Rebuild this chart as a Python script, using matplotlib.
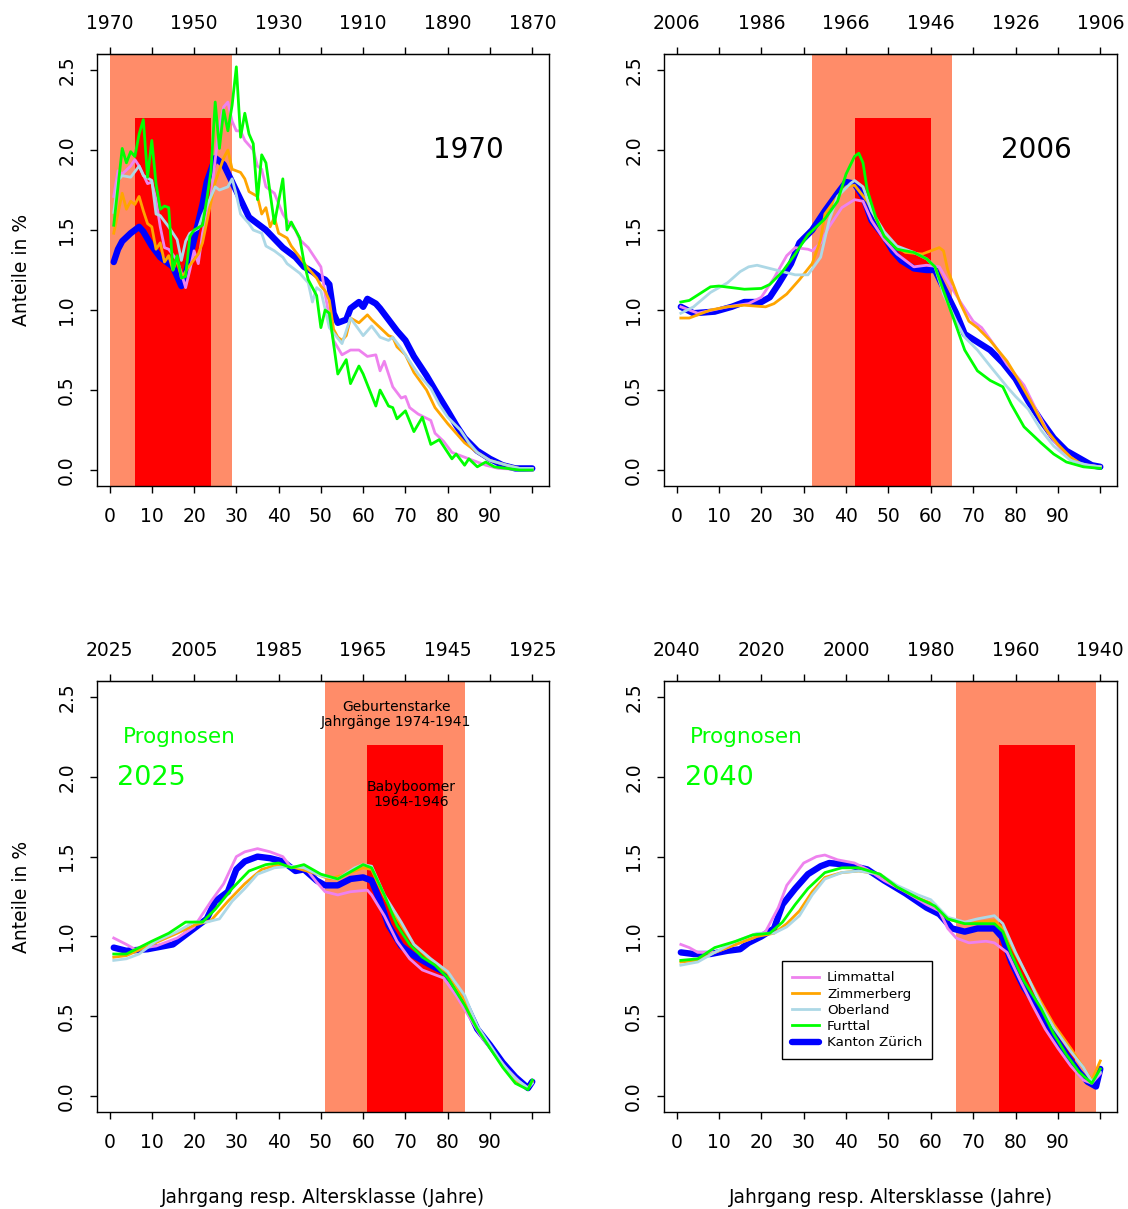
import matplotlib
matplotlib.use("Agg")
import matplotlib.pyplot as plt

# Altersverteilung Kanton Zuerich und Regionen (Anteile in %)

# ---- 1970 ----
alter_1970_zh = [1, 2, 3, 5, 7, 8, 10, 12, 14, 15, 17, 18, 20, 22, 23, 25, 27, 29, 31, 33, 35, 37, 41, 44, 46, 48, 50, 51, 52, 53,
                 54, 56, 57, 59, 60, 61, 63, 64, 66, 68, 70, 72, 75, 77, 80, 82, 84, 87, 90, 93, 96, 100]
anteil_1970_zh = [1.30, 1.38, 1.43, 1.48, 1.52, 1.49, 1.40, 1.33, 1.29, 1.27, 1.15, 1.22, 1.44, 1.66, 1.80, 1.95, 1.91, 1.80, 1.69, 1.58, 1.54, 1.50, 1.39, 1.33, 1.27, 1.24, 1.20, 1.19, 1.16, 0.98,
                  0.92, 0.94, 1.01, 1.05, 1.02, 1.07, 1.04, 1.01, 0.94, 0.87, 0.81, 0.71, 0.59, 0.50, 0.37, 0.28, 0.20, 0.12, 0.07, 0.03, 0.01, 0.01]
alter_1970_lim = [1, 2, 3, 5, 6, 7, 9, 10, 11, 12, 13, 14, 16, 17, 18, 19, 20, 21, 22, 24, 25, 26, 27, 28, 29, 30, 31, 32, 34, 35,
                  36, 37, 39, 41, 42, 44, 45, 47, 48, 50, 51, 52, 53, 55, 57, 59, 61, 63, 64, 65, 67, 69, 70, 71, 73, 76, 77, 79, 81, 84,
                  86, 89, 92, 100]
anteil_1970_lim = [1.71, 1.87, 1.85, 1.90, 1.94, 1.90, 1.79, 1.80, 1.69, 1.52, 1.39, 1.38, 1.31, 1.23, 1.14, 1.25, 1.37, 1.29, 1.48, 1.71, 1.94, 2.15, 2.27, 2.30, 2.18, 2.12, 2.12, 2.06, 2.00, 1.90,
                   1.88, 1.77, 1.73, 1.60, 1.56, 1.50, 1.44, 1.39, 1.35, 1.27, 1.10, 0.95, 0.81, 0.72, 0.75, 0.75, 0.71, 0.72, 0.62, 0.68, 0.52, 0.45, 0.46, 0.39, 0.35, 0.31, 0.23, 0.18, 0.11, 0.08,
                   0.06, 0.03, 0.01, 0.00]
alter_1970_zim = [1, 3, 4, 5, 6, 7, 8, 9, 10, 11, 12, 13, 14, 15, 16, 17, 18, 19, 21, 22, 23, 25, 27, 28, 29, 31, 32, 33, 35, 36,
                  37, 38, 39, 40, 42, 43, 45, 47, 49, 50, 51, 52, 53, 54, 55, 56, 57, 59, 61, 62, 64, 66, 67, 68, 70, 72, 75, 77, 80, 82,
                  84, 87, 90, 94, 97, 100]
anteil_1970_zim = [1.48, 1.73, 1.63, 1.68, 1.66, 1.71, 1.62, 1.54, 1.52, 1.38, 1.42, 1.30, 1.34, 1.25, 1.32, 1.20, 1.24, 1.28, 1.35, 1.42, 1.55, 1.80, 1.95, 2.00, 1.88, 1.86, 1.82, 1.74, 1.71, 1.60,
                   1.64, 1.52, 1.58, 1.48, 1.45, 1.40, 1.33, 1.26, 1.20, 1.15, 1.12, 1.06, 0.88, 0.83, 0.81, 0.84, 0.95, 0.92, 0.97, 0.94, 0.89, 0.84, 0.83, 0.77, 0.72, 0.61, 0.50, 0.39, 0.29, 0.23,
                   0.17, 0.11, 0.06, 0.03, 0.01, 0.01]
alter_1970_obe = [1, 2, 3, 5, 7, 8, 10, 11, 12, 14, 16, 17, 18, 19, 21, 22, 24, 25, 26, 28, 29, 30, 31, 33, 34, 36, 37, 39, 41, 42,
                  45, 47, 48, 49, 50, 52, 55, 57, 60, 62, 64, 66, 67, 69, 71, 73, 76, 78, 80, 83, 85, 87, 90, 94, 97, 100]
anteil_1970_obe = [1.61, 1.81, 1.84, 1.83, 1.90, 1.84, 1.81, 1.60, 1.59, 1.52, 1.44, 1.31, 1.43, 1.48, 1.51, 1.59, 1.71, 1.77, 1.75, 1.77, 1.82, 1.72, 1.60, 1.54, 1.50, 1.48, 1.40, 1.37, 1.33, 1.29,
                   1.23, 1.17, 1.05, 1.14, 1.12, 0.89, 0.79, 0.95, 0.84, 0.90, 0.83, 0.81, 0.83, 0.76, 0.68, 0.60, 0.51, 0.41, 0.33, 0.25, 0.17, 0.11, 0.06, 0.03, 0.01, 0.01]
alter_1970_fur = [1, 3, 4, 5, 6, 7, 8, 9, 10, 11, 12, 13, 14, 15, 16, 17, 18, 19, 20, 22, 23, 24, 25, 26, 27, 28, 29, 30, 31, 32,
                  33, 34, 35, 36, 37, 38, 39, 41, 42, 43, 45, 46, 47, 48, 49, 50, 51, 52, 54, 56, 57, 59, 60, 63, 64, 66, 67, 68, 70, 72,
                  74, 76, 78, 81, 82, 84, 85, 87, 89, 91, 94, 97, 100]
anteil_1970_fur = [1.53, 2.01, 1.92, 1.99, 1.96, 2.10, 2.19, 1.83, 2.06, 1.79, 1.63, 1.65, 1.64, 1.25, 1.34, 1.20, 1.21, 1.46, 1.50, 1.53, 1.69, 1.87, 2.30, 2.01, 2.25, 2.12, 2.28, 2.52, 2.08, 2.23,
                   2.10, 2.04, 1.69, 1.97, 1.92, 1.73, 1.54, 1.82, 1.50, 1.55, 1.45, 1.30, 1.19, 1.14, 1.09, 0.89, 1.00, 0.98, 0.60, 0.69, 0.54, 0.65, 0.60, 0.40, 0.50, 0.40, 0.39, 0.32, 0.37, 0.24,
                   0.33, 0.16, 0.19, 0.07, 0.10, 0.03, 0.07, 0.02, 0.05, 0.02, 0.01, 0.00, 0.00]

# ---- 2006 ----
alter_2006_zh = [1, 4, 9, 13, 16, 20, 22, 24, 27, 29, 32, 35, 38, 40, 42, 44, 46, 49, 51, 53, 56, 59, 61, 63, 66, 68, 71, 74, 77, 80,
                 83, 86, 89, 92, 96, 98, 100]
anteil_2006_zh = [1.02, 0.98, 0.99, 1.02, 1.05, 1.05, 1.08, 1.16, 1.29, 1.42, 1.50, 1.62, 1.73, 1.80, 1.79, 1.71, 1.56, 1.46, 1.37, 1.31, 1.26, 1.25, 1.25, 1.14, 0.98, 0.85, 0.80, 0.75, 0.67, 0.57,
                  0.43, 0.31, 0.20, 0.12, 0.06, 0.03, 0.02]
alter_2006_lim = [1, 5, 12, 17, 20, 23, 26, 28, 31, 32, 34, 36, 39, 42, 44, 46, 49, 52, 56, 59, 62, 64, 67, 70, 72, 75, 78, 82, 85, 88,
                  91, 95, 100]
anteil_2006_lim = [1.02, 0.98, 1.02, 1.04, 1.08, 1.20, 1.34, 1.39, 1.38, 1.37, 1.42, 1.52, 1.64, 1.69, 1.68, 1.56, 1.44, 1.35, 1.27, 1.28, 1.27, 1.18, 1.05, 0.93, 0.89, 0.78, 0.66, 0.53, 0.37, 0.22,
                   0.12, 0.04, 0.02]
alter_2006_zim = [1, 3, 8, 12, 16, 21, 23, 26, 29, 32, 34, 35, 38, 40, 42, 45, 48, 51, 54, 58, 60, 62, 63, 64, 67, 69, 71, 74, 78, 81,
                  84, 87, 90, 93, 96, 100]
anteil_2006_zim = [0.95, 0.95, 1.00, 1.02, 1.03, 1.02, 1.04, 1.10, 1.19, 1.29, 1.44, 1.60, 1.71, 1.77, 1.78, 1.68, 1.52, 1.41, 1.36, 1.35, 1.37, 1.39, 1.37, 1.25, 1.04, 0.93, 0.89, 0.81, 0.68, 0.55,
                   0.41, 0.26, 0.16, 0.08, 0.03, 0.02]
alter_2006_obe = [1, 4, 8, 12, 15, 17, 19, 22, 25, 28, 31, 34, 36, 38, 41, 42, 44, 46, 49, 52, 56, 59, 61, 63, 66, 68, 71, 74, 78, 80,
                  83, 86, 89, 93, 97, 100]
anteil_2006_obe = [0.98, 1.02, 1.11, 1.17, 1.24, 1.27, 1.28, 1.26, 1.24, 1.22, 1.22, 1.33, 1.56, 1.71, 1.79, 1.81, 1.77, 1.62, 1.49, 1.40, 1.36, 1.32, 1.27, 1.10, 0.93, 0.83, 0.75, 0.65, 0.52, 0.46,
                   0.38, 0.25, 0.15, 0.06, 0.03, 0.02]
alter_2006_fur = [1, 3, 8, 10, 13, 16, 20, 22, 25, 28, 31, 35, 38, 40, 42, 43, 44, 45, 47, 49, 52, 56, 59, 61, 63, 66, 68, 71, 74, 77,
                  79, 82, 86, 89, 92, 96, 100]
anteil_2006_fur = [1.05, 1.06, 1.145, 1.15, 1.14, 1.13, 1.135, 1.16, 1.24, 1.35, 1.47, 1.57, 1.68, 1.85, 1.96, 1.98, 1.92, 1.75, 1.58, 1.46, 1.38, 1.36, 1.32, 1.27, 1.12, 0.90, 0.75, 0.62, 0.56, 0.52,
                   0.41, 0.27, 0.17, 0.10, 0.05, 0.02, 0.01]

# ---- 2025 (Prognose) ----
alter_2025_zh = [1, 4, 9, 15, 17, 20, 23, 25, 28, 30, 32, 35, 38, 41, 44, 46, 49, 51, 54, 57, 60, 62, 64, 66, 69, 72, 76, 79, 81, 84,
                 87, 90, 93, 96, 99, 100]
anteil_2025_zh = [0.93, 0.91, 0.92, 0.95, 0.99, 1.05, 1.11, 1.22, 1.28, 1.42, 1.47, 1.50, 1.49, 1.47, 1.41, 1.42, 1.35, 1.32, 1.32, 1.36, 1.37, 1.35, 1.22, 1.07, 0.94, 0.88, 0.82, 0.78, 0.72, 0.59,
                  0.42, 0.32, 0.21, 0.12, 0.05, 0.09]
alter_2025_lim = [1, 4, 6, 11, 16, 20, 24, 27, 30, 32, 35, 38, 41, 43, 46, 49, 51, 54, 57, 61, 62, 65, 68, 71, 74, 76, 79, 82, 85, 88,
                  91, 94, 97, 99, 100]
anteil_2025_lim = [0.99, 0.95, 0.92, 0.94, 0.99, 1.06, 1.22, 1.33, 1.50, 1.53, 1.55, 1.53, 1.50, 1.43, 1.44, 1.34, 1.28, 1.26, 1.28, 1.29, 1.26, 1.13, 0.97, 0.86, 0.79, 0.77, 0.74, 0.63, 0.50, 0.37,
                   0.27, 0.17, 0.09, 0.05, 0.08]
alter_2025_zim = [1, 4, 10, 16, 20, 24, 28, 32, 36, 40, 44, 48, 52, 56, 60, 62, 65, 69, 72, 76, 80, 84, 87, 90, 93, 96, 99, 100]
anteil_2025_zim = [0.87, 0.88, 0.95, 1.02, 1.07, 1.10, 1.22, 1.33, 1.42, 1.45, 1.43, 1.40, 1.36, 1.39, 1.43, 1.42, 1.25, 1.07, 0.95, 0.85, 0.77, 0.60, 0.43, 0.31, 0.19, 0.10, 0.05, 0.09]
alter_2025_obe = [1, 4, 7, 11, 16, 20, 23, 26, 29, 32, 35, 39, 43, 46, 50, 54, 58, 60, 62, 65, 69, 72, 76, 80, 84, 87, 90, 93, 96, 99,
                  100]
anteil_2025_obe = [0.85, 0.86, 0.89, 0.97, 1.03, 1.09, 1.09, 1.11, 1.22, 1.30, 1.39, 1.43, 1.44, 1.43, 1.38, 1.36, 1.43, 1.45, 1.44, 1.26, 1.09, 0.95, 0.86, 0.78, 0.63, 0.44, 0.32, 0.20, 0.11, 0.05,
                   0.08]
alter_2025_fur = [1, 4, 10, 14, 18, 21, 22, 25, 29, 33, 37, 40, 43, 46, 50, 54, 58, 60, 62, 65, 68, 71, 74, 77, 80, 84, 87, 90, 93, 96,
                  99, 100]
anteil_2025_fur = [0.89, 0.89, 0.97, 1.02, 1.09, 1.09, 1.09, 1.17, 1.30, 1.41, 1.45, 1.46, 1.43, 1.45, 1.39, 1.36, 1.42, 1.45, 1.43, 1.26, 1.07, 0.95, 0.87, 0.82, 0.74, 0.57, 0.42, 0.30, 0.18, 0.08,
                   0.04, 0.10]

# ---- 2040 (Prognose) ----
alter_2040_zh = [1, 4, 8, 12, 15, 17, 20, 23, 25, 28, 31, 34, 36, 40, 45, 49, 54, 59, 62, 65, 68, 71, 75, 77, 79, 82, 86, 89, 92, 95,
                 97, 99, 100]
anteil_2040_zh = [0.90, 0.89, 0.89, 0.91, 0.92, 0.96, 1.00, 1.05, 1.20, 1.30, 1.39, 1.44, 1.46, 1.45, 1.42, 1.35, 1.27, 1.18, 1.14, 1.05, 1.03, 1.05, 1.05, 0.99, 0.84, 0.68, 0.53, 0.38, 0.26, 0.15,
                  0.09, 0.06, 0.17]
alter_2040_lim = [1, 3, 5, 9, 14, 18, 21, 24, 26, 30, 33, 35, 38, 42, 45, 49, 54, 59, 62, 64, 66, 69, 73, 75, 78, 81, 84, 87, 90, 93,
                  96, 98, 100]
anteil_2040_lim = [0.95, 0.93, 0.90, 0.90, 0.95, 0.99, 1.03, 1.18, 1.32, 1.46, 1.50, 1.51, 1.48, 1.46, 1.42, 1.35, 1.28, 1.20, 1.16, 1.05, 0.99, 0.96, 0.97, 0.96, 0.90, 0.73, 0.57, 0.42, 0.30, 0.19,
                   0.10, 0.08, 0.14]
alter_2040_zim = [1, 5, 9, 14, 19, 23, 26, 29, 32, 35, 39, 43, 48, 52, 57, 61, 64, 68, 71, 75, 77, 80, 83, 86, 89, 93, 96, 98, 100]
anteil_2040_zim = [0.84, 0.85, 0.90, 0.95, 1.00, 1.02, 1.08, 1.16, 1.28, 1.37, 1.40, 1.41, 1.39, 1.31, 1.24, 1.20, 1.11, 1.08, 1.09, 1.10, 1.05, 0.89, 0.74, 0.59, 0.45, 0.30, 0.18, 0.10, 0.22]
alter_2040_obe = [1, 5, 9, 14, 19, 23, 26, 29, 32, 35, 39, 43, 48, 52, 57, 60, 64, 68, 71, 75, 77, 80, 83, 86, 89, 93, 96, 98, 100]
anteil_2040_obe = [0.82, 0.84, 0.90, 0.97, 1.02, 1.02, 1.06, 1.13, 1.26, 1.36, 1.40, 1.41, 1.39, 1.32, 1.26, 1.23, 1.12, 1.09, 1.11, 1.13, 1.08, 0.90, 0.74, 0.57, 0.43, 0.28, 0.18, 0.09, 0.15]
alter_2040_fur = [1, 5, 9, 14, 18, 22, 25, 28, 31, 35, 39, 43, 48, 52, 57, 61, 64, 68, 71, 75, 77, 79, 82, 86, 89, 92, 95, 98, 100]
anteil_2040_fur = [0.85, 0.86, 0.93, 0.97, 1.01, 1.02, 1.09, 1.20, 1.30, 1.40, 1.43, 1.43, 1.39, 1.31, 1.24, 1.19, 1.11, 1.08, 1.08, 1.08, 1.03, 0.89, 0.72, 0.55, 0.39, 0.26, 0.15, 0.08, 0.17]

regionen = ["Limmattal", "Zimmerberg", "Oberland", "Furttal", "Kanton Zürich"]
farben = ["violet", "orange", "lightblue", "#00FF00", "blue"]

jahre = [1970, 2006, 2025, 2040]

# geburtenstarke Jahrgaenge und Babyboomer (Geburtsjahre)
geburtenstark = (1974, 1941)
babyboomer = (1964, 1946)
boomer_hoehe = 2.2

plt.rcParams['font.family'] = ['DejaVu Sans']

fig = plt.figure(figsize=(11.28, 12.09), dpi=100)
positionen = [
    [0.0860, 0.5980, 0.4007, 0.3573],
    [0.5887, 0.5980, 0.4016, 0.3573],
    [0.0860, 0.0802, 0.4007, 0.3565],
    [0.5887, 0.0802, 0.4016, 0.3565],
]


def zeichne_panel(ax, jahr, kurven, zh):
    # Hintergrund: Balken fuer die Jahrgaenge
    ax.axvspan(max(jahr - geburtenstark[0], 0), jahr - geburtenstark[1], color="#FF8C69", lw=0, zorder=0)
    ax.fill_between([jahr - babyboomer[0], jahr - babyboomer[1]], -1, boomer_hoehe, color="red", lw=0, zorder=1)

    linien = []
    # Kanton zuerst (dick), dann Regionen darueber
    l_zh, = ax.plot(zh[0], zh[1], color="blue", lw=4.6, solid_capstyle="round", solid_joinstyle="round", zorder=2,
                    label="Kanton Zürich")
    for i, (alter, anteil) in enumerate(kurven):
        l, = ax.plot(alter, anteil, color=farben[i], lw=2, zorder=3, label=regionen[i])
        linien.append(l)
    linien.append(l_zh)

    ax.set_xlim(-2.96, 103.96)
    ax.set_ylim(-0.1, 2.6)

    ax.set_xticks(range(0, 101, 10))
    ax.set_xticklabels([str(v) if v < 100 else "" for v in range(0, 101, 10)])
    ax.set_yticks([0, 0.5, 1.0, 1.5, 2.0, 2.5])
    ax.set_yticklabels(["0.0", "0.5", "1.0", "1.5", "2.0", "2.5"], rotation=90, va="center")
    ax.tick_params(direction="out", length=5, width=1, labelsize=13.5, pad=10)

    oben = ax.secondary_xaxis("top")
    oben.set_xticks(range(0, 101, 10))
    oben.set_xticklabels([str(jahr - v) if v % 20 == 0 else "" for v in range(0, 101, 10)])
    oben.tick_params(direction="out", length=5, width=1, labelsize=13.5, pad=10)

    for s in ax.spines.values():
        s.set_linewidth(1)
    return linien


achsen = []
daten = [
    ([(alter_1970_lim, anteil_1970_lim), (alter_1970_zim, anteil_1970_zim), (alter_1970_obe, anteil_1970_obe),
      (alter_1970_fur, anteil_1970_fur)], (alter_1970_zh, anteil_1970_zh)),
    ([(alter_2006_lim, anteil_2006_lim), (alter_2006_zim, anteil_2006_zim), (alter_2006_obe, anteil_2006_obe),
      (alter_2006_fur, anteil_2006_fur)], (alter_2006_zh, anteil_2006_zh)),
    ([(alter_2025_lim, anteil_2025_lim), (alter_2025_zim, anteil_2025_zim), (alter_2025_obe, anteil_2025_obe),
      (alter_2025_fur, anteil_2025_fur)], (alter_2025_zh, anteil_2025_zh)),
    ([(alter_2040_lim, anteil_2040_lim), (alter_2040_zim, anteil_2040_zim), (alter_2040_obe, anteil_2040_obe),
      (alter_2040_fur, anteil_2040_fur)], (alter_2040_zh, anteil_2040_zh)),
]

for i, jahr in enumerate(jahre):
    ax = fig.add_axes(positionen[i])
    linien = zeichne_panel(ax, jahr, daten[i][0], daten[i][1])
    achsen.append(ax)

    if jahr < 2010:
        ax.text(85, 2.0, str(jahr), fontsize=20, ha="center", va="center", zorder=5)
    else:
        ax.text(16.5, 2.25, "Prognosen", fontsize=15.5, color="#00FF00", ha="center", va="center", zorder=5)
        ax.text(10, 1.99, str(jahr), fontsize=19.5, color="#00FF00", ha="center", va="center", zorder=5)
        ax.set_xlabel("Jahrgang resp. Altersklasse (Jahre)", fontsize=13.5)
        ax.xaxis.set_label_coords(0.5, -0.176)

    if i % 2 == 0:
        ax.set_ylabel("Anteile in %", fontsize=13.5)
        ax.yaxis.set_label_coords(-0.147, 0.5)

# Beschriftung der Balken im Panel 2025
achsen[2].text(67.8, 2.39, "Geburtenstarke\nJahrgänge 1974-1941", fontsize=10, ha="center", va="center",
               linespacing=1.05, zorder=5)
achsen[2].text(71.3, 1.89, "Babyboomer\n1964-1946", fontsize=10, ha="center", va="center", linespacing=1.05, zorder=5)

# Legende im Panel 2040
leg = achsen[3].legend(handles=linien, loc="upper left", bbox_to_anchor=(0.26, 0.35), fontsize=9.7,
                       frameon=True, fancybox=False, framealpha=1, edgecolor="black", borderaxespad=0,
                       handlelength=2.0, labelspacing=0.24, borderpad=0.75, handletextpad=0.6)
leg.get_frame().set_linewidth(1)
leg.set_zorder(10)

fig.savefig("out.png", dpi=100)
